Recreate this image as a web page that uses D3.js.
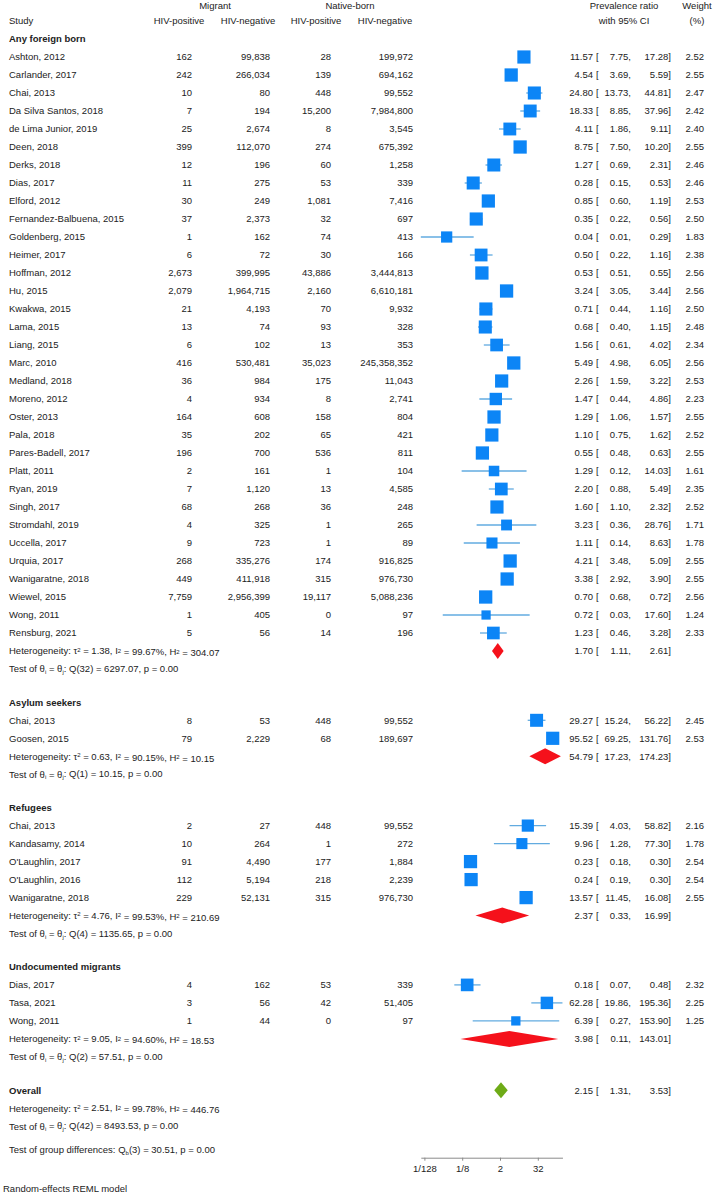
<!DOCTYPE html>
<html>
<head>
<meta charset="utf-8">
<script src="https://cdn.jsdelivr.net/npm/d3@7"></script>
<style>
  body { margin: 0; background: #fff; }
  text { font-family: "Liberation Sans", Arial, sans-serif; fill: #222; }
</style>
</head>
<body>
<div id="chart"></div>
<script>
var width = 719,
  height = 1194;

// ---- data ----
var groups = ["Any foreign born", "Asylum seekers", "Refugees", "Undocumented migrants"];

var studies = ["Ashton, 2012", "Carlander, 2017", "Chai, 2013", "Da Silva Santos, 2018", "de Lima Junior, 2019",
  "Deen, 2018", "Derks, 2018", "Dias, 2017", "Elford, 2012", "Fernandez-Balbuena, 2015", "Goldenberg, 2015",
  "Heimer, 2017", "Hoffman, 2012", "Hu, 2015", "Kwakwa, 2015", "Lama, 2015", "Liang, 2015", "Marc, 2010",
  "Medland, 2018", "Moreno, 2012", "Oster, 2013", "Pala, 2018", "Pares-Badell, 2017", "Platt, 2011",
  "Ryan, 2019", "Singh, 2017", "Stromdahl, 2019", "Uccella, 2017", "Urquia, 2017", "Wanigaratne, 2018",
  "Wiewel, 2015", "Wong, 2011", "Rensburg, 2021",
  "Chai, 2013", "Goosen, 2015",
  "Chai, 2013", "Kandasamy, 2014", "O'Laughlin, 2017", "O'Laughlin, 2016", "Wanigaratne, 2018",
  "Dias, 2017", "Tasa, 2021", "Wong, 2011"];

var studyGroup = [0,0,0,0,0,0,0,0,0,0,0,0,0,0,0,0,0,0,0,0,0,0,0,0,0,0,0,0,0,0,0,0,0,
  1,1, 2,2,2,2,2, 3,3,3];

var migPos = [162, 242, 10, 7, 25, 399, 12, 11, 30, 37, 1, 6, 2673, 2079, 21, 13, 6, 416, 36, 4, 164, 35, 196, 2,
  7, 68, 4, 9, 268, 449, 7759, 1, 5,
  8, 79,
  2, 10, 91, 112, 229,
  4, 3, 1];
var migNeg = [99838, 266034, 80, 194, 2674, 112070, 196, 275, 249, 2373, 162, 72, 399995, 1964715, 4193, 74, 102,
  530481, 984, 934, 608, 202, 700, 161, 1120, 268, 325, 723, 335276, 411918, 2956399, 405, 56,
  53, 2229,
  27, 264, 4490, 5194, 52131,
  162, 56, 44];
var natPos = [28, 139, 448, 15200, 8, 274, 60, 53, 1081, 32, 74, 30, 43886, 2160, 70, 93, 13, 35023, 175, 8, 158,
  65, 536, 1, 13, 36, 1, 1, 174, 315, 19117, 0, 14,
  448, 68,
  448, 1, 177, 218, 315,
  53, 42, 0];
var natNeg = [199972, 694162, 99552, 7984800, 3545, 675392, 1258, 339, 7416, 697, 413, 166, 3444813, 6610181, 9932,
  328, 353, 245358352, 11043, 2741, 804, 421, 811, 104, 4585, 248, 265, 89, 916825, 976730, 5088236, 97, 196,
  99552, 189697,
  99552, 272, 1884, 2239, 976730,
  339, 51405, 97];

var est = [11.57, 4.54, 24.80, 18.33, 4.11, 8.75, 1.27, 0.28, 0.85, 0.35, 0.04, 0.50, 0.53, 3.24, 0.71, 0.68, 1.56,
  5.49, 2.26, 1.47, 1.29, 1.10, 0.55, 1.29, 2.20, 1.60, 3.23, 1.11, 4.21, 3.38, 0.70, 0.72, 1.23,
  29.27, 95.52,
  15.39, 9.96, 0.23, 0.24, 13.57,
  0.18, 62.28, 6.39];
var lo = [7.75, 3.69, 13.73, 8.85, 1.86, 7.50, 0.69, 0.15, 0.60, 0.22, 0.006, 0.22, 0.51, 3.05, 0.44, 0.40, 0.61,
  4.98, 1.59, 0.44, 1.06, 0.75, 0.48, 0.12, 0.88, 1.10, 0.36, 0.14, 3.48, 2.92, 0.68, 0.03, 0.46,
  15.24, 69.25,
  4.03, 1.28, 0.18, 0.19, 11.45,
  0.07, 19.86, 0.27];
var hi = [17.28, 5.59, 44.81, 37.96, 9.11, 10.20, 2.31, 0.53, 1.19, 0.56, 0.29, 1.16, 0.55, 3.44, 1.16, 1.15, 4.02,
  6.05, 3.22, 4.86, 1.57, 1.62, 0.63, 14.03, 5.49, 2.32, 28.76, 8.63, 5.09, 3.90, 0.72, 17.60, 3.28,
  56.22, 131.76,
  58.82, 77.30, 0.30, 0.30, 16.08,
  0.48, 195.36, 153.90];
var weight = [2.52, 2.55, 2.47, 2.42, 2.40, 2.55, 2.46, 2.46, 2.53, 2.50, 1.83, 2.38, 2.56, 2.56, 2.50, 2.48, 2.34,
  2.56, 2.53, 2.23, 2.55, 2.52, 2.55, 1.61, 2.35, 2.52, 1.71, 1.78, 2.55, 2.55, 2.56, 1.24, 2.33,
  2.45, 2.53,
  2.16, 1.78, 2.54, 2.54, 2.55,
  2.32, 2.25, 1.25];

// subgroup + overall summaries
var sumEst = [1.70, 54.79, 2.37, 3.98];
var sumLo = [1.11, 17.23, 0.33, 0.11];
var sumHi = [2.61, 174.23, 16.99, 143.01];
var tau2 = ["1.38", "0.63", "4.76", "9.05"];
var i2 = ["99.67", "90.15", "99.53", "94.60"];
var h2 = ["304.07", "10.15", "210.69", "18.53"];
var qdf = [32, 1, 4, 2];
var qval = ["6297.07", "10.15", "1135.65", "57.51"];

var overall = { est: 2.15, lo: 1.31, hi: 3.53, tau2: "2.51", i2: "99.78", h2: "446.76", df: 42, q: "8493.53" };
var groupTest = { df: 3, q: "30.51", p: "0.00" };

var tickVals = [1 / 128, 1 / 8, 2, 32];
var tickLabels = ["1/128", "1/8", "2", "32"];

// ---- layout: one slot per row ----
var rows = [];
var cur = -1;
groups.forEach(function(g, gi) {
  rows.push({ type: "group", slot: cur, g: gi });
  cur += 1;
  studies.forEach(function(s, i) {
    if (studyGroup[i] != gi) return;
    rows.push({ type: "study", slot: cur, i: i });
    cur += 1;
  });
  rows.push({ type: "het", slot: cur, g: gi });
  cur += 1;
  rows.push({ type: "test", slot: cur, g: gi });
  cur += 1.85;
});
var overallSlot = cur;

var yScale = d3.scaleLinear().domain([0, 1]).range([57, 75]);

// log2 scale: 2 sits at x=500, 9.45px per doubling
var allLo = d3.min(lo),
  allHi = d3.max(hi);
var pxPer = 9.45;
var xScale = d3.scaleLog().base(2)
  .domain([allLo, allHi])
  .range([500 + (Math.log2(allLo) - 1) * pxPer, 500 + (Math.log2(allHi) - 1) * pxPer]);

var fmtN = d3.format(",");
var f2 = function(v) { return v.toFixed(2); };

var svg = d3.select("#chart").append("svg")
  .attr("width", width)
  .attr("height", height);

var fs = "9.5px";

function txt(x, y, s, anchor, bold) {
  return svg.append("text")
    .attr("x", x)
    .attr("y", y)
    .attr("dy", "0.35em")
    .attr("font-size", fs)
    .attr("font-weight", bold ? "bold" : "normal")
    .attr("text-anchor", anchor || "start")
    .text(s);
}

// ---- column headers ----
txt(215, yScale(-2.85), "Migrant", "middle");
txt(350, yScale(-2.85), "Native-born", "middle");
txt(624, yScale(-2.85), "Prevalence ratio", "middle");
txt(697, yScale(-2.85), "Weight", "middle");
txt(9, yScale(-2), "Study");
txt(179, yScale(-2), "HIV-positive", "middle");
txt(248, yScale(-2), "HIV-negative", "middle");
txt(316, yScale(-2), "HIV-positive", "middle");
txt(385, yScale(-2), "HIV-negative", "middle");
txt(624, yScale(-2), "with 95% CI", "middle");
txt(697, yScale(-2), "(%)", "middle");

var colRight = [192, 270, 331, 413];

function ciText(y, e, l, h) {
  txt(593, y, f2(e), "end");
  txt(596, y, "[");
  txt(631, y, f2(l) + ",", "end");
  txt(671, y, f2(h) + "]", "end");
}

function hetText(y, t, ii, hh) {
  var t1 = svg.append("text").attr("x", 9).attr("y", y).attr("dy", "0.35em").attr("font-size", fs);
  t1.append("tspan").text("Heterogeneity: \u03c4");
  t1.append("tspan").attr("font-size", "6px").attr("dy", "-0.45em").text("2");
  t1.append("tspan").attr("dy", "0.28em").text(" = " + t + ", I");
  t1.append("tspan").attr("font-size", "6px").attr("dy", "-0.28em").text("2");
  t1.append("tspan").attr("dy", "0.28em").text(" = " + ii + "%, H");
  t1.append("tspan").attr("font-size", "6px").attr("dy", "-0.28em").text("2");
  t1.append("tspan").attr("dy", "0.28em").text(" = " + hh);
}

function testText(y, df, q) {
  var t1 = svg.append("text").attr("x", 9).attr("y", y).attr("dy", "0.35em").attr("font-size", fs);
  t1.append("tspan").text("Test of \u03b8");
  t1.append("tspan").attr("font-size", "6px").attr("dy", "0.3em").text("i");
  t1.append("tspan").attr("dy", "-0.2em").text(" = \u03b8");
  t1.append("tspan").attr("font-size", "6px").attr("dy", "0.3em").text("j");
  t1.append("tspan").attr("dy", "-0.2em").text(": Q(" + df + ") = " + q + ", p = 0.00");
}

function diamond(y, e, l, h, col) {
  var hh = 8;
  var pts = [[xScale(l), y], [xScale(e), y - hh], [xScale(h), y], [xScale(e), y + hh]];
  svg.append("polygon")
    .attr("points", pts.map(function(p) { return p.join(","); }).join(" "))
    .attr("fill", col);
}

// ---- rows ----
rows.forEach(function(r) {
  var y = yScale(r.slot);
  if (r.type == "group") {
    txt(9, y, groups[r.g], "start", true);
  } else if (r.type == "study") {
    var i = r.i;
    txt(9, y, studies[i]);
    txt(colRight[0], y, fmtN(migPos[i]), "end");
    txt(colRight[1], y, fmtN(migNeg[i]), "end");
    txt(colRight[2], y, fmtN(natPos[i]), "end");
    txt(colRight[3], y, fmtN(natNeg[i]), "end");
    ciText(y, est[i], lo[i], hi[i]);
    txt(704, y, f2(weight[i]), "end");

    svg.append("line")
      .attr("x1", xScale(lo[i]))
      .attr("x2", xScale(hi[i]))
      .attr("y1", y)
      .attr("y2", y)
      .attr("stroke", "#62abe0")
      .attr("stroke-width", 1.3);
    var side = 8.3 * Math.sqrt(weight[i]);
    svg.append("rect")
      .attr("x", xScale(est[i]) - side / 2)
      .attr("y", y - side / 2)
      .attr("width", side)
      .attr("height", side)
      .attr("fill", "#0c85f6");
  } else if (r.type == "het") {
    hetText(y, tau2[r.g], i2[r.g], h2[r.g]);
    diamond(y, sumEst[r.g], sumLo[r.g], sumHi[r.g], "#f5111b");
    ciText(y, sumEst[r.g], sumLo[r.g], sumHi[r.g]);
  } else if (r.type == "test") {
    testText(y, qdf[r.g], qval[r.g]);
  }
});

// ---- overall ----
var yo = yScale(overallSlot);
txt(9, yo, "Overall", "start", true);
diamond(yo, overall.est, overall.lo, overall.hi, "#6eab17");
ciText(yo, overall.est, overall.lo, overall.hi);
hetText(yScale(overallSlot + 1), overall.tau2, overall.i2, overall.h2);
testText(yScale(overallSlot + 2), overall.df, overall.q);

var tg = svg.append("text").attr("x", 9).attr("y", yScale(overallSlot + 3.3)).attr("dy", "0.35em").attr("font-size", fs);
tg.append("tspan").text("Test of group differences: Q");
tg.append("tspan").attr("font-size", "6px").attr("dy", "0.3em").text("b");
tg.append("tspan").attr("dy", "-0.2em").text("(" + groupTest.df + ") = " + groupTest.q + ", p = " + groupTest.p);

txt(3, yScale(overallSlot + 5.45), "Random-effects REML model");

// ---- x axis ----
var axis = d3.axisBottom(xScale)
  .tickValues(tickVals)
  .tickFormat(function(d, i) { return tickLabels[i]; })
  .tickSize(3)
  .tickSizeOuter(0);

var gAxis = svg.append("g")
  .attr("transform", "translate(0," + yScale(overallSlot + 3.75) + ")")
  .call(axis);
gAxis.select(".domain").attr("stroke", "#8a8a8a");
gAxis.selectAll(".tick line").attr("stroke", "#8a8a8a");
gAxis.selectAll(".tick text")
  .attr("font-family", "Liberation Sans, Arial, sans-serif")
  .attr("font-size", "9.5px")
  .attr("fill", "#222")
  .attr("dy", "0.9em");
</script>
</body>
</html>
